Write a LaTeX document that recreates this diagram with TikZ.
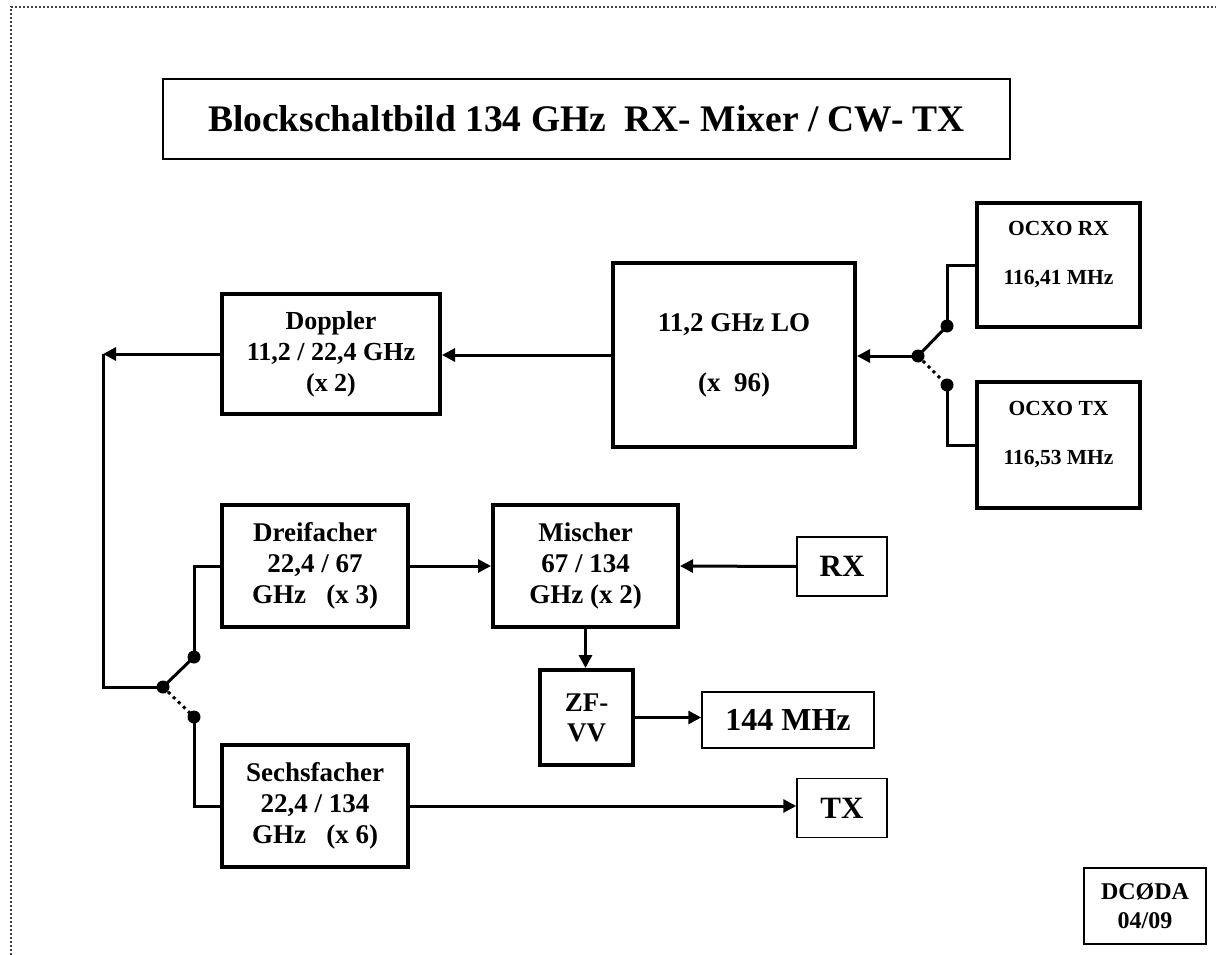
\documentclass[tikz,border=0pt]{standalone}
\usepackage{fontspec}
\setmainfont{Liberation Serif}
\usetikzlibrary{arrows.meta}

\begin{document}
\begin{tikzpicture}[line join=miter, >={Triangle[length=13pt,width=13pt]}, x=1pt, y=-1pt]
\tikzset{
    block/.style=    {draw, line width=4pt, align=center, inner sep=0pt, font=\bfseries\fontsize{27}{31}\selectfont},
    thinbox/.style=  {draw, line width=1.5pt, align=center, inner sep=0pt},
    ocxotext/.style= {align=center, inner sep=0pt, font=\bfseries\fontsize{21.5}{25}\selectfont},
    wire/.style=     {line width=3pt},
    switchoff/.style={line width=3pt, dash pattern=on 3pt off 4pt},
    dot/.style=      {circle, fill=black, inner sep=0pt, minimum size=13pt}
}
\useasboundingbox (0,0) rectangle (1216,955);
%% dotted page frame
\draw[line width=2pt, black!75, dash pattern=on 2pt off 2pt] (11,955) -- (11,7) -- (1216,7);

%% title
\node[thinbox, minimum width=847pt, minimum height=80pt, font=\bfseries\fontsize{37.5}{44}\selectfont] (title) at (586.5,119) {Blockschaltbild 134 GHz \ RX- Mixer / CW- TX};

%% blocks
\node[block, minimum width=218pt, minimum height=120pt, font=\bfseries\fontsize{26}{31}\selectfont] (doppler) at (331,354) {Doppler\\11,2 / 22,4 GHz\\(x 2)};
\node[block, minimum width=242pt, minimum height=184pt] (lo) at (734,355) {11,2 GHz LO\\[29pt](x \ 96)};
\node[block, minimum width=163pt, minimum height=124pt] (ocxorx) at (1058.5,265) {};
\node[ocxotext] (ocxorxtext) at ([yshift=10pt]ocxorx.center) {OCXO RX\\[24pt]116,41 MHz};
\node[block, minimum width=163pt, minimum height=126pt] (ocxotx) at (1058.5,445) {};
\node[ocxotext] (ocxotxtext) at ([yshift=10pt]ocxotx.center) {OCXO TX\\[24pt]116,53 MHz};
\node[block, minimum width=186pt, minimum height=122pt] (dreifacher) at (315,566) {Dreifacher\\22,4 / 67\\GHz \ \ (x 3)};
\node[block, minimum width=185pt, minimum height=122pt] (mischer) at (585.5,566) {Mischer\\67 / 134\\GHz (x 2)};
\node[block, minimum width=93pt, minimum height=95pt, font=\bfseries\fontsize{27}{30}\selectfont] (zfvv) at (586.5,717.5) {ZF-\\VV};
\node[block, minimum width=186pt, minimum height=122pt] (sechsfacher) at (315,806) {Sechsfacher\\22,4 / 134\\GHz \ \ (x 6)};
\node[thinbox, minimum width=90pt, minimum height=59pt, font=\bfseries\fontsize{31}{36}\selectfont] (rx) at (842,566.5) {RX};
\node[thinbox, minimum width=172pt, minimum height=56pt, font=\bfseries\fontsize{32}{36}\selectfont] (mhz) at (788,720) {144 MHz};
\node[thinbox, minimum width=90pt, minimum height=59pt, font=\bfseries\fontsize{31}{36}\selectfont] (tx) at (842,808) {TX};
\node[thinbox, minimum width=122pt, minimum height=76pt, font=\bfseries\fontsize{24}{29}\selectfont] (sign) at (1145,906) {DCØDA\\04/09};

%% switches
\node[dot] (r0) at (918,356) {};
\node[dot] (r1) at (947,326) {};
\node[dot] (r2) at (947,385) {};
\node[dot] (l0) at (163,687) {};
\node[dot] (l1) at (194,657) {};
\node[dot] (l2) at (194,717) {};
\coordinate (ltop) at (103,354);

%% connections
\draw[wire,->] (r0.center) -- (r0.center -| lo.east);
\draw[wire] (r0.center) -- (r1.center);
\draw[switchoff] (r0.center) -- (r2.center);
\draw[wire] (r1.center) |- (ocxorx.west);
\draw[wire] (r2.center) |- (ocxotx.west);
\draw[wire,->] (lo.west) -- (lo.west -| doppler.east);
\draw[wire,->] (doppler.west) -- (ltop);
\draw[wire] (ltop) |- (l0.center);
\draw[wire] (l0.center) -- (l1.center);
\draw[switchoff] (l0.center) -- (l2.center);
\draw[wire] (l1.center) |- (dreifacher.west);
\draw[wire] (l2.center) |- (sechsfacher.west);
\draw[wire,->] (dreifacher.east) -- (mischer.west);
\draw[wire,->] (rx.west) -- (mischer.east);
\draw[wire,->] (mischer.south) -- (mischer.south |- zfvv.north);
\draw[wire,->] (zfvv.east) -- (zfvv.east -| mhz.west);
\draw[wire,->] (sechsfacher.east) -- (sechsfacher.east -| tx.west);

\end{tikzpicture}
\end{document}
